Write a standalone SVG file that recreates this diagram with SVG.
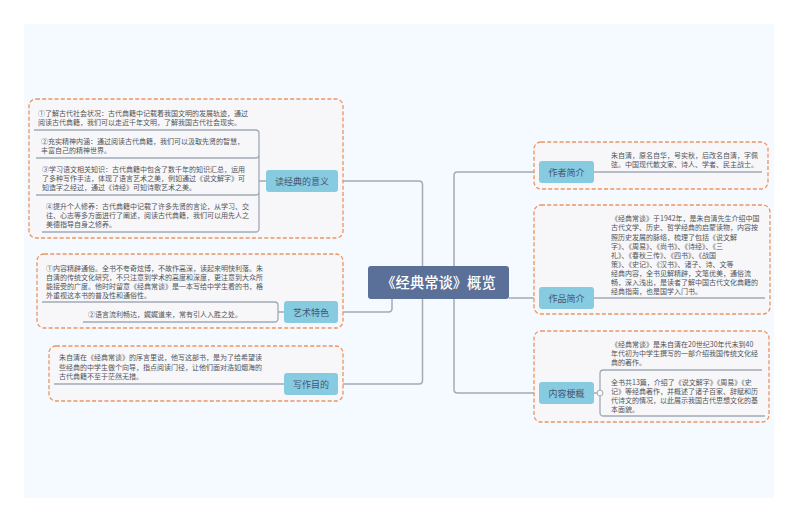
<svg xmlns="http://www.w3.org/2000/svg" width="800" height="523" viewBox="0 0 800 523">
<style>
text{font-family:"Noto Sans CJK SC","Noto Sans",sans-serif}
.box{fill:#f7f7fa;stroke:#ec9560;stroke-width:1.3;stroke-dasharray:4 2.2}
.node{fill:#87cbe1}
.lab{font-size:9px;fill:#45556f;text-anchor:middle}
.t{font-size:7px;fill:#505459}
.ln{fill:none;stroke:#a2aab5;stroke-width:1.3}
.cn{fill:none;stroke:#a2aab5;stroke-width:1.5}
</style>
<rect width="800" height="523" fill="#ffffff"/>
<rect x="24" y="24" width="750" height="474" fill="#f4faff"/>
<g id="connectors">
<path class="cn" d="M338 181H419Q422.500 181 422.500 184.500V380.500Q422.500 384 419 384H338"/>
<path class="cn" d="M338 312H388.500Q392 312 392 308.500V299"/>
<path class="cn" d="M539 172H457.500Q454 172 454 175.500V389.500Q454 393 457.500 393H539"/>
<path class="cn" d="M509 298H539"/>
</g>
<g id="node-meaning">
<rect class="box" x="29" y="99" width="314" height="139" rx="7"/>
<path class="ln" d="M34 130H255.500Q259 130 259 133.500V154.500Q259 158 255.500 158H36M259 154V191.500Q259 195 255.500 195H36M259 191V228.500Q259 232 255.500 232H42M259 181H266"/>
<text class="t" x="38" y="115.500">①了解古代社会状况：古代典籍中记载着我国文明的发展轨迹，通过</text>
<text class="t" x="38" y="125">阅读古代典籍，我们可以走近千年文明，了解我国古代社会现实。</text>
<text class="t" x="41" y="144">②充实精神内涵：通过阅读古代典籍，我们可以汲取先贤的智慧，</text>
<text class="t" x="41" y="153">丰富自己的精神世界。</text>
<text class="t" x="42" y="172">③学习语文相关知识：古代典籍中包含了数千年的知识汇总，运用</text>
<text class="t" x="42" y="181">了多种写作手法，体现了语言艺术之美，例如通过《说文解字》可</text>
<text class="t" x="42" y="190">知造字之经过，通过《诗经》可知诗歌艺术之美。</text>
<text class="t" x="46" y="209">④提升个人修养：古代典籍中记载了许多先贤的言论，从学习、交</text>
<text class="t" x="46" y="218">往、心志等多方面进行了阐述，阅读古代典籍，我们可以用先人之</text>
<text class="t" x="46" y="227">美德指导自身之修养。</text>
<rect class="node" x="266" y="170" width="72" height="22" rx="3"/>
<text class="lab" x="302" y="184.500">读经典的意义</text>
</g>
<g id="node-art">
<rect class="box" x="37" y="254" width="306" height="74" rx="7"/>
<path class="ln" d="M42 302H274.500Q278 302 278 305.500V318.500Q278 322 274.500 322H83M278 312H284"/>
<text class="t" x="46" y="271">①内容精辟通俗。全书不夸奇炫博，不故作高深，读起来明快利落。朱</text>
<text class="t" x="46" y="280">自清的传统文化研究，不只注意到学术的高度和深度，更注意到大众所</text>
<text class="t" x="46" y="289">能接受的广度。他时时留意《经典常谈》是一本写给中学生看的书，格</text>
<text class="t" x="46" y="298">外重视这本书的普及性和通俗性。</text>
<text class="t" x="88" y="317">②语言流利畅达，娓娓道来，常有引人入胜之处。</text>
<rect class="node" x="284" y="301" width="54" height="22" rx="3"/>
<text class="lab" x="311" y="315.500">艺术特色</text>
</g>
<g id="node-purpose">
<rect class="box" x="49" y="346" width="294" height="55" rx="7"/>
<path class="ln" d="M54 384H284"/>
<text class="t" x="59" y="360">朱自清在《经典常谈》的序言里说，他写这部书，是为了给希望读</text>
<text class="t" x="59" y="369.500">些经典的中学生做个向导，指点阅读门径，让他们面对浩如烟海的</text>
<text class="t" x="59" y="379">古代典籍不至于茫然无措。</text>
<rect class="node" x="284" y="373" width="54" height="22" rx="3"/>
<text class="lab" x="311" y="387.500">写作目的</text>
</g>
<g id="node-center">
<rect x="368" y="266" width="141" height="33" rx="3" fill="#5a7099"/>
<text x="438.500" y="287.500" font-size="14.300" font-weight="500" fill="#ffffff" text-anchor="middle">《经典常谈》概览</text>
</g>
<g id="node-author">
<rect class="box" x="534" y="142" width="234" height="47" rx="7"/>
<path class="ln" d="M594 172H762"/>
<text class="t" x="611" y="158">朱自清，原名自华，号实秋，后改名自清，字佩</text>
<text class="t" x="611" y="167">弦。中国现代散文家、诗人、学者、民主战士。</text>
<rect class="node" x="539" y="161" width="55" height="22" rx="3"/>
<text class="lab" x="566.500" y="175.500">作者简介</text>
</g>
<g id="node-works">
<rect class="box" x="534" y="205" width="236" height="109" rx="7"/>
<path class="ln" d="M594 298H765"/>
<text class="t" x="611" y="221">《经典常谈》于1942年，是朱自清先生介绍中国</text>
<text class="t" x="611" y="230">古代文学、历史、哲学经典的启蒙读物，内容按</text>
<text class="t" x="611" y="239.500">照历史发展的脉络，梳理了包括《说文解</text>
<text class="t" x="611" y="248.500">字》、《周易》、《尚书》、《诗经》、《三</text>
<text class="t" x="611" y="257.500">礼》、《春秋三传》、《四书》、《战国</text>
<text class="t" x="611" y="266.500">策》、《史记》、《汉书》、诸子、诗、文等</text>
<text class="t" x="611" y="275.500">经典内容，全书见解精辟，文笔优美，通俗流</text>
<text class="t" x="611" y="284.500">畅，深入浅出，是读者了解中国古代文化典籍的</text>
<text class="t" x="611" y="294">经典指南，也是国学入门书。</text>
<rect class="node" x="539" y="287" width="55" height="22" rx="3"/>
<text class="lab" x="566.500" y="301.500">作品简介</text>
</g>
<g id="node-summary">
<rect class="box" x="534" y="331" width="235" height="91" rx="7"/>
<path class="ln" d="M762 370H603.500Q600 370 600 373.500V412.500Q600 416 603.500 416H765M594 393H597"/>
<circle cx="600" cy="393" r="3" fill="#f7f7fa" stroke="#a2aab5" stroke-width="1"/>
<text class="t" x="611" y="347">《经典常谈》是朱自清在20世纪30年代末到40</text>
<text class="t" x="611" y="356">年代初为中学生撰写的一部介绍我国传统文化经</text>
<text class="t" x="611" y="365">典的著作。</text>
<text class="t" x="611" y="385">全书共13篇，介绍了《说文解字》《周易》《史</text>
<text class="t" x="611" y="394">记》等经典著作，并概述了诸子百家、辞赋和历</text>
<text class="t" x="611" y="403">代诗文的情况，以此展示我国古代思想文化的基</text>
<text class="t" x="611" y="412">本面貌。</text>
<rect class="node" x="539" y="382" width="55" height="22" rx="3"/>
<text class="lab" x="566.500" y="396.500">内容梗概</text>
</g>
</svg>
